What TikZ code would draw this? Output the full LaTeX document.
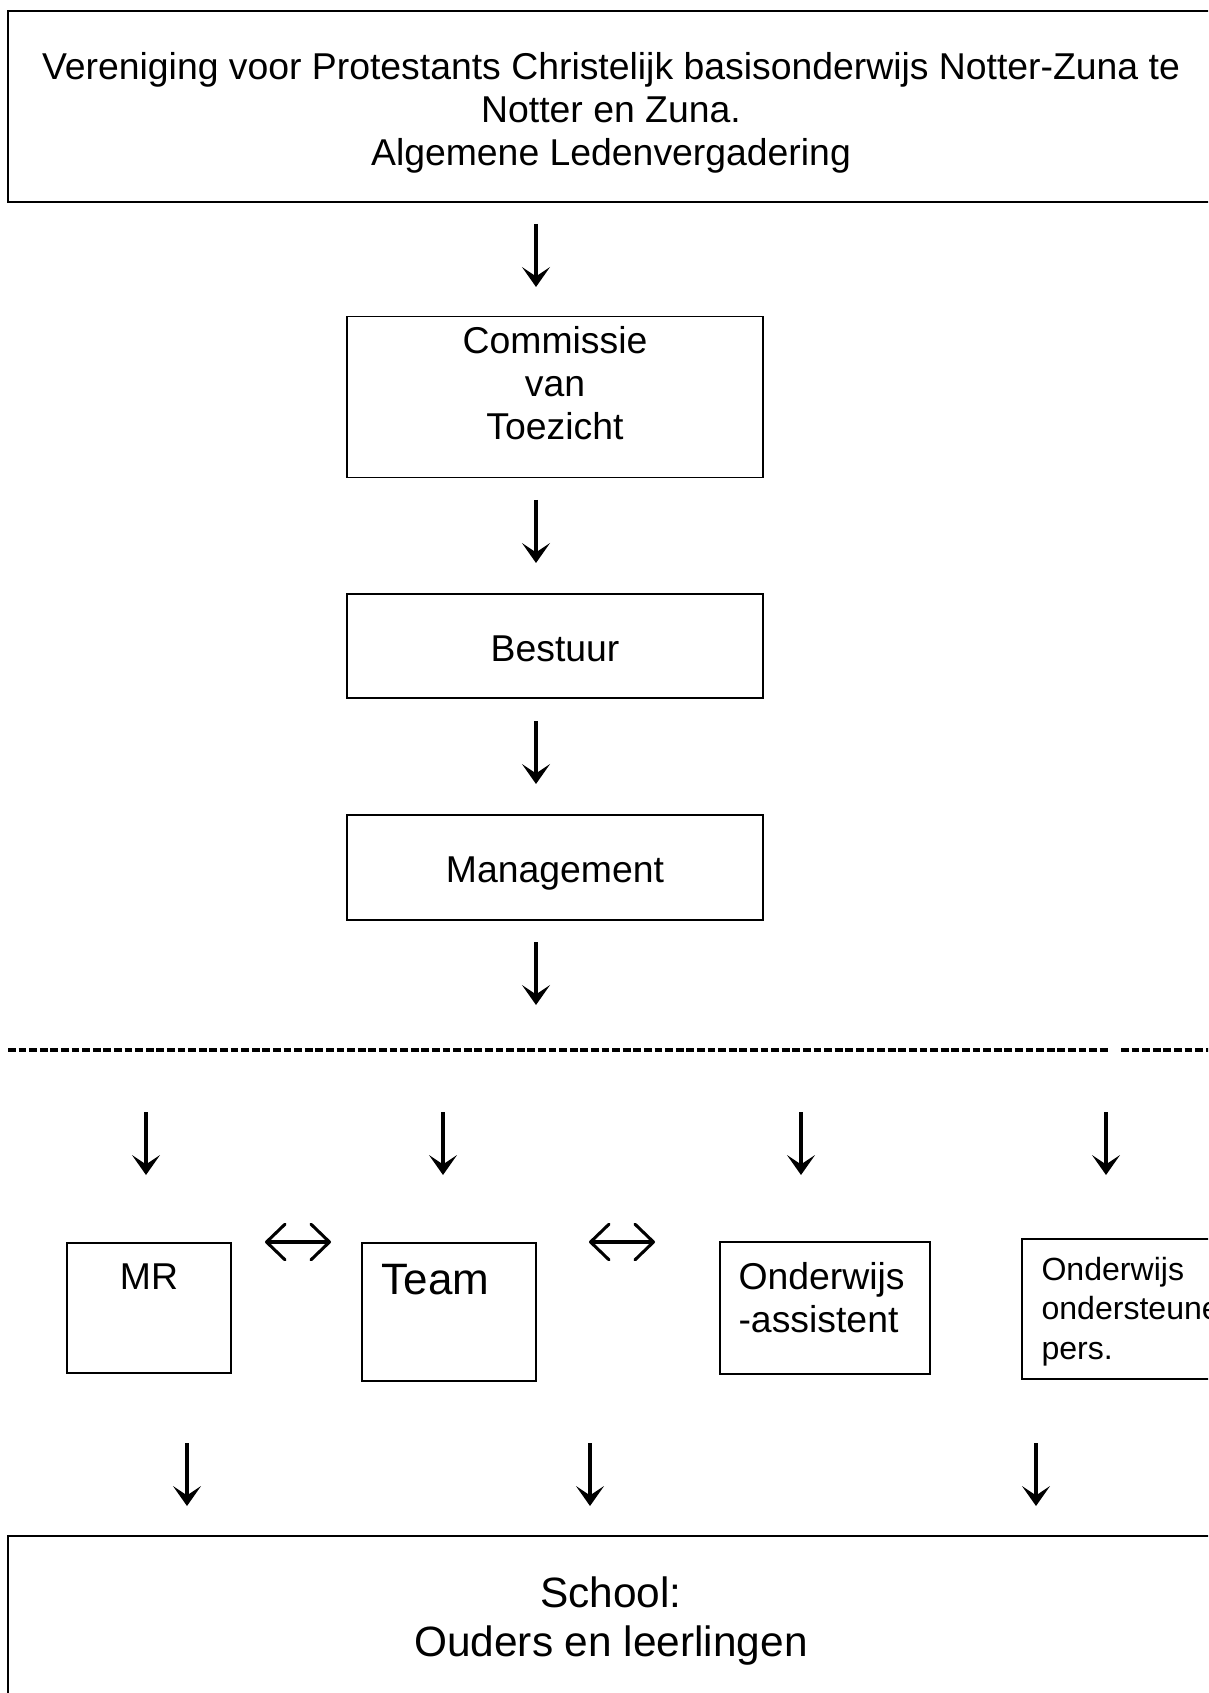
\documentclass[tikz,border=0pt]{standalone}
\usepackage{fontspec}
\setmainfont{Liberation Sans}
\usetikzlibrary{arrows.meta,fit}
\begin{document}
\begin{tikzpicture}[x=0.3774pt, y=-0.3774pt,
  box/.style={draw, line width=0.75pt, inner sep=0pt},
  bigbox/.style={box, line width=1pt},
  txt/.style={inner sep=0pt, font=\fontsize{14.1}{16.1}\selectfont, align=center},
  dn/.style={line width=1.15pt, -{Stealth[length=7.5pt,width=10.5pt,inset=3.5pt]}},
  lr/.style={line width=1.15pt, line cap=round, {Straight Barb[length=7pt,width=13.5pt,round]}-{Straight Barb[length=7pt,width=13.5pt,round]}},
  sep/.style={line width=1.15pt, dash pattern=on 2.95pt off 1.05pt}]
\useasboundingbox (0,0) rectangle (1208,1693);
\fill[white] (0,0) rectangle (1208,1693);
\clip (0,0) rectangle (1208,1693);

% boxes
\node[bigbox, fit={(8,11) (1214,202)}] (alv) {};
\node[box, fit={(346.5,316.5) (763,477.5)}] (cvt) {};
\node[box, fit={(346.5,594) (763,698)}] (bst) {};
\node[box, fit={(346.5,815) (763,920)}] (mgt) {};
\node[box, fit={(67,1243) (231,1373)}] (mr) {};
\node[box, fit={(362,1243) (536,1381)}] (team) {};
\node[box, fit={(720,1242) (930,1374)}] (oa) {};
\node[box, fit={(1022,1239) (1240,1379)}] (oop) {};
\node[bigbox, fit={(8,1536) (1214,1720)}] (sch) {};

% texts
\node[txt] (alvT) at (611,113) {Vereniging voor Protestants Christelijk basisonderwijs Notter-Zuna te\\Notter en Zuna.\\Algemene Ledenvergadering};
\node[txt] (cvtT) at (555,383) {Commissie\\van\\Toezicht};
\node[txt, anchor=base] (bstT) at (555,661) {Bestuur};
\node[txt, anchor=base] (mgtT) at (555,882) {Management};
\node[txt, anchor=base] (mrT) at (149,1289) {MR};
\node[txt, anchor=base west, font=\fontsize{16.6}{18.4}\selectfont] (teamT) at (381,1294) {Team};
\node[txt, anchor=north west, align=left] (oaT) at (738,1262) {Onderwijs\\-assistent};
\node[txt, anchor=north west, align=left, font=\fontsize{12.1}{14.8}\selectfont] (oopT) at (1041,1257) {Onderwijs\\ondersteunend\\pers.};
\node[txt, font=\fontsize{16}{18.4}\selectfont] (schT) at (611,1621) {School:\\Ouders en leerlingen};

% arrow end points
\coordinate (a1s) at (536,224);  \coordinate (a1e) at (536,287);
\coordinate (a2s) at (536,500);  \coordinate (a2e) at (536,563);
\coordinate (a3s) at (536,721);  \coordinate (a3e) at (536,784);
\coordinate (a4s) at (536,942);  \coordinate (a4e) at (536,1005);
\coordinate (b1s) at (146,1112); \coordinate (b1e) at (146,1175);
\coordinate (b2s) at (443,1112); \coordinate (b2e) at (443,1175);
\coordinate (b3s) at (801,1112); \coordinate (b3e) at (801,1175);
\coordinate (b4s) at (1106,1112); \coordinate (b4e) at (1106,1175);
\coordinate (c1s) at (187,1443); \coordinate (c1e) at (187,1506);
\coordinate (c2s) at (590,1443); \coordinate (c2e) at (590,1506);
\coordinate (c3s) at (1036,1443); \coordinate (c3e) at (1036,1506);
\coordinate (h1l) at (265,1242); \coordinate (h1r) at (331,1242);
\coordinate (h2l) at (589,1242); \coordinate (h2r) at (655,1242);
\coordinate (d1) at (8,1050);    \coordinate (d2) at (1110,1050);
\coordinate (d3) at (1121,1050); \coordinate (d4) at (1215,1050);

% arrows
\draw[dn] (a1s) -- (a1e);
\draw[dn] (a2s) -- (a2e);
\draw[dn] (a3s) -- (a3e);
\draw[dn] (a4s) -- (a4e);
\draw[dn] (b1s) -- (b1e);
\draw[dn] (b2s) -- (b2e);
\draw[dn] (b3s) -- (b3e);
\draw[dn] (b4s) -- (b4e);
\draw[dn] (c1s) -- (c1e);
\draw[dn] (c2s) -- (c2e);
\draw[dn] (c3s) -- (c3e);
\draw[lr] (h1l) -- (h1r);
\draw[lr] (h2l) -- (h2r);

% separator
\draw[sep] (d1) -- (d2);
\draw[sep] (d3) -- (d4);
\end{tikzpicture}
\end{document}
